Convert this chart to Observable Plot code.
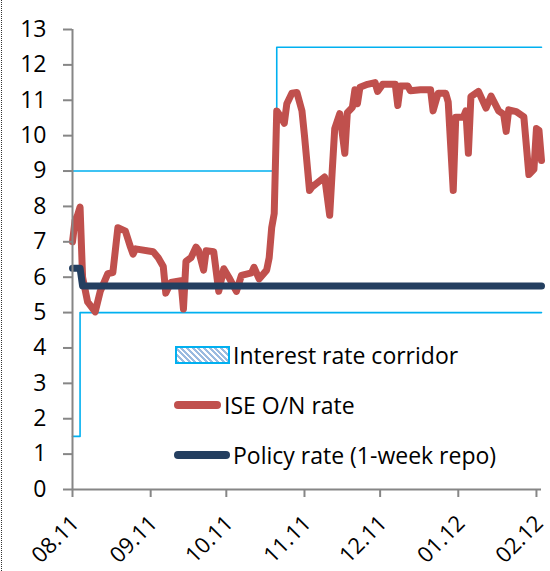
<!DOCTYPE html>
<html>
<head>
<meta charset="utf-8">
<script src="https://cdn.jsdelivr.net/npm/d3@7"></script>
<script src="https://cdn.jsdelivr.net/npm/@observablehq/plot@0.6"></script>
<style>
  html, body { margin: 0; padding: 0; background: #fff; }
  body { font-family: "Open Sans", Lato, sans-serif; }
  #wrap { position: relative; width: 550px; height: 571px; overflow: hidden; }
  #border { position: absolute; left: 1px; top: 0; bottom: 0; border-left: 1px dotted #333; }
  #legend { position: absolute; left: 0; top: 0; font-size: 23px; color: #000; }
  .item { position: absolute; display: flex; align-items: center; white-space: nowrap; }
  .patch { width: 51px; height: 14px; border: 2px solid #00b0f0; box-sizing: content-box;
           background: repeating-linear-gradient(45deg, #9bbbe0 0 2px, #ffffff 2px 4px); margin-right: 3px; }
  .ln { height: 8px; border-radius: 4px; margin-right: 3px; }
</style>
</head>
<body>
<div id="wrap">
  <div id="chart"></div>
  <div id="border"></div>
  <div id="legend"></div>
</div>
<script>
// ISE O/N rate (%)
const onDates = ["2011-08-01","2011-08-02","2011-08-03","2011-08-04","2011-08-05","2011-08-07","2011-08-10","2011-08-12","2011-08-15","2011-08-17","2011-08-19","2011-08-22","2011-08-24","2011-08-25","2011-08-26","2011-09-02","2011-09-04","2011-09-06","2011-09-07","2011-09-09","2011-09-13","2011-09-14","2011-09-15","2011-09-17","2011-09-19","2011-09-20","2011-09-22","2011-09-23","2011-09-26","2011-09-28","2011-09-30","2011-10-02","2011-10-05","2011-10-07","2011-10-11","2011-10-12","2011-10-14","2011-10-17","2011-10-18","2011-10-19","2011-10-20","2011-10-21","2011-10-22","2011-10-24","2011-10-25","2011-10-27","2011-10-29","2011-10-31","2011-11-01","2011-11-03","2011-11-04","2011-11-09","2011-11-11","2011-11-12","2011-11-13","2011-11-15","2011-11-17","2011-11-18","2011-11-20","2011-11-21","2011-11-22","2011-11-23","2011-11-26","2011-11-29","2011-11-30","2011-12-02","2011-12-05","2011-12-07","2011-12-08","2011-12-09","2011-12-12","2011-12-13","2011-12-17","2011-12-21","2011-12-22","2011-12-24","2011-12-27","2011-12-28","2011-12-30","2011-12-31","2012-01-03","2012-01-04","2012-01-05","2012-01-06","2012-01-09","2012-01-12","2012-01-14","2012-01-17","2012-01-19","2012-01-20","2012-01-21","2012-01-24","2012-01-27","2012-01-29","2012-01-31","2012-02-01","2012-02-02","2012-02-03"];
const onRate = [7.0,7.6,7.75,7.98,6.0,5.3,5.02,5.6,6.1,6.13,7.4,7.3,6.85,6.65,6.8,6.72,6.55,6.3,5.55,5.85,5.9,5.1,6.45,6.55,6.85,6.75,6.2,6.75,6.72,5.6,6.24,6.0,5.6,6.05,6.12,6.28,5.95,6.2,6.55,7.4,7.8,10.7,10.6,10.35,10.9,11.2,11.22,10.7,10.0,8.45,8.55,8.83,7.75,9.0,10.2,10.62,9.5,10.65,10.8,11.3,10.9,11.37,11.45,11.5,11.25,11.45,11.45,11.45,10.85,11.4,11.4,11.27,11.3,11.3,10.7,11.2,11.2,10.95,8.45,10.52,10.52,10.7,9.5,11.1,11.25,10.78,11.12,10.7,10.6,10.12,10.73,10.68,10.53,8.9,9.05,10.2,10.15,9.3];

// Policy rate (1-week repo)
const policyDates = ["2011-08-01","2011-08-04","2011-08-05","2012-02-03"];
const policyRate = [6.25,6.25,5.75,5.75];

// Interest rate corridor
const corridorDates = ["2011-08-01","2011-08-04","2011-10-21","2012-02-03"];
const lowerBound = [1.5,5,5,5];
const upperBound = [9,9,12.5,12.5];

// Axis
const xStart = "2011-08-01", xEnd = "2012-02-03";
const xTickDates = ["2011-08-01","2011-09-01","2011-10-01","2011-11-01","2011-12-01","2012-01-01","2012-02-01"];
const xTickLabels = ["08.11","09.11","10.11","11.11","12.11","01.12","02.12"];
const yTicks = [0,1,2,3,4,5,6,7,8,9,10,11,12,13];

const legendLabels = ["Interest rate corridor","ISE O/N rate","Policy rate (1-week repo)"];

const P = s => new Date(s + "T00:00:00Z");
const onData = onDates.map((d, i) => ({date: P(d), v: onRate[i]}));
const polData = policyDates.map((d, i) => ({date: P(d), v: policyRate[i]}));
const corData = corridorDates.map((d, i) => ({date: P(d), lo: lowerBound[i], hi: upperBound[i]}));
const xTicks = xTickDates.map((d, i) => ({date: P(d), label: xTickLabels[i]}));

const RED = "#c0504d", NAVY = "#243f60", CYAN = "#00b0f0", GRAY = "#868686";
const FONT = "'Open Sans', Lato, sans-serif";

const chart = Plot.plot({
  width: 550,
  height: 571,
  marginLeft: 72,
  marginRight: 9,
  marginTop: 29,
  marginBottom: 82,
  style: {fontFamily: FONT, background: "#fff", color: "#000"},
  x: {type: "utc", domain: [P(xStart), P(xEnd)]},
  y: {domain: [0, 13]},
  marks: [
    Plot.line(corData, {x: "date", y: "lo", stroke: CYAN, strokeWidth: 1.6, curve: "step-after"}),
    Plot.line(corData, {x: "date", y: "hi", stroke: CYAN, strokeWidth: 1.6, curve: "step-after"}),
    Plot.line(onData, {x: "date", y: "v", stroke: RED, strokeWidth: 7, strokeLinejoin: "round"}),
    Plot.line(polData, {x: "date", y: "v", stroke: NAVY, strokeWidth: 7, strokeLinejoin: "round"}),
    Plot.ruleX([P(xStart)], {stroke: GRAY, strokeWidth: 2}),
    Plot.ruleY([0], {stroke: GRAY, strokeWidth: 2}),
    Plot.axisY({ticks: yTicks, tickSize: 9, tickPadding: 17, stroke: GRAY, strokeWidth: 2, fill: "#000", fontSize: 23, label: null}),
    Plot.axisX({ticks: xTickDates.map(P), tickSize: 8, stroke: GRAY, strokeWidth: 2, tickFormat: () => "", label: null}),
    Plot.text(xTicks, {x: "date", text: "label", frameAnchor: "bottom", rotate: -45, textAnchor: "end", lineAnchor: "middle", dx: 3, dy: 30, fontSize: 22, fill: "#000"})
  ]
});
document.getElementById("chart").appendChild(chart);

// Legend (inside plot area)
const legend = document.getElementById("legend");
const items = [
  {top: 344, left: 175, sw: '<div class="patch"></div>'},
  {top: 394, left: 174, sw: `<div class="ln" style="width:47px;background:${RED}"></div>`},
  {top: 444, left: 174, sw: `<div class="ln" style="width:56px;background:${NAVY}"></div>`}
];
items.forEach((it, i) => {
  const el = document.createElement("div");
  el.className = "item";
  el.style.top = it.top + "px";
  el.style.left = it.left + "px";
  el.style.height = "22px";
  el.innerHTML = it.sw + `<span>${legendLabels[i]}</span>`;
  legend.appendChild(el);
});
</script>
</body>
</html>
